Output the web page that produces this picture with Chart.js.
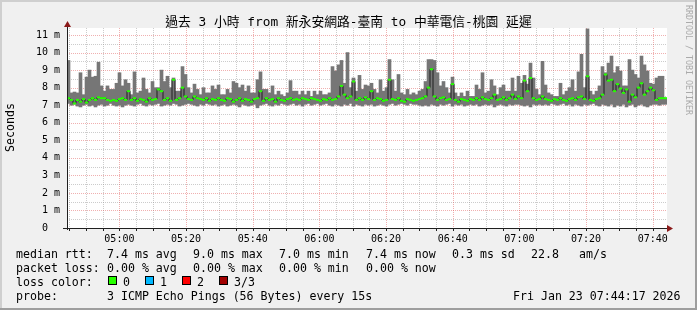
<!DOCTYPE html>
<html>
<head>
<meta charset="utf-8">
<script src="https://cdn.jsdelivr.net/npm/chart.js@4.4.1/dist/chart.umd.min.js"></script>
<style>
  html, body { margin: 0; padding: 0; background: #f0f0f0; }
  canvas { display: block; }
</style>
</head>
<body>
<canvas id="chart" width="697" height="310"></canvas>
<script>
// 200 consolidated samples, 54 s each, 04:44:17 -> 07:44:17 (ms)
const startSec = 4 * 3600 + 44 * 60 + 17;
const stepSec = 54;
const spanSec = 3 * 3600;

const rttMax = [
  9.55, 7.7, 7.75, 7.7, 8.85, 7.6, 8.6, 9.0, 8.6, 8.65, 9.45, 8.1, 7.8, 8.1, 7.9, 7.9, 8.25, 8.85, 8.1, 8.45,
  8.25, 7.6, 8.9, 7.7, 7.8, 8.55, 7.9, 7.7, 8.35, 8.0, 8.0, 9.0, 8.35, 8.65, 8.0, 8.55, 7.8, 7.8, 9.2, 8.75,
  8.0, 7.7, 8.2, 7.9, 7.6, 8.0, 7.7, 7.7, 8.1, 7.9, 8.15, 7.6, 7.6, 7.9, 7.7, 8.35, 8.25, 8.0, 8.15, 7.8,
  8.1, 7.7, 7.7, 8.45, 8.9, 7.9, 7.9, 7.7, 8.1, 7.6, 7.8, 7.6, 7.5, 7.7, 8.4, 7.8, 7.8, 7.6, 7.8, 7.6,
  7.8, 7.5, 7.8, 7.6, 7.8, 7.6, 7.6, 7.7, 9.2, 8.95, 9.3, 9.55, 8.25, 10.0, 8.0, 8.55, 7.8, 8.7, 7.9, 8.15,
  8.1, 8.25, 7.9, 7.7, 8.45, 7.8, 8.0, 9.6, 8.45, 7.8, 8.75, 7.7, 7.6, 7.9, 7.6, 7.7, 7.6, 7.8, 7.9, 8.35,
  9.6, 9.6, 9.55, 8.85, 8.1, 8.35, 8.0, 7.7, 8.6, 7.7, 7.5, 7.7, 7.5, 7.8, 7.5, 7.5, 8.15, 7.9, 8.85, 7.7,
  7.8, 8.45, 8.1, 7.6, 8.0, 8.15, 7.8, 7.8, 8.55, 7.8, 8.65, 8.25, 8.7, 8.2, 9.4, 8.55, 7.9, 7.6, 9.5, 8.15,
  7.7, 7.6, 7.5, 7.5, 8.25, 7.6, 7.8, 8.0, 8.45, 7.8, 8.9, 9.9, 8.0, 11.35, 7.8, 7.6, 7.8, 8.1, 9.2, 8.85,
  9.4, 9.8, 8.85, 9.2, 8.95, 8.1, 8.1, 9.6, 9.0, 8.75, 8.55, 9.8, 9.3, 8.95, 8.25, 8.2, 8.55, 8.65, 8.65, 7.4
];

const rttMin = [
  7.1, 7.0, 7.05, 6.95, 6.9, 7.0, 7.05, 6.95, 7.0, 6.9, 7.0, 7.05, 6.95, 7.0, 7.1, 7.0, 6.95, 7.0, 6.9, 7.0,
  7.05, 7.0, 6.95, 7.05, 7.1, 7.0, 6.95, 7.05, 7.0, 7.05, 7.1, 6.95, 7.0, 7.05, 7.0, 7.1, 7.05, 6.95, 7.0, 7.05,
  7.1, 7.05, 7.0, 6.95, 7.05, 7.0, 7.1, 7.05, 7.0, 7.05, 6.95, 7.0, 7.05, 6.95, 7.0, 7.05, 7.0, 6.9, 7.05, 7.0,
  6.95, 7.0, 7.05, 6.85, 7.0, 7.05, 7.1, 7.0, 6.95, 7.05, 7.0, 7.1, 7.05, 7.0, 7.05, 7.1, 7.0, 7.05, 6.95, 7.05,
  7.1, 7.0, 7.05, 7.1, 7.0, 7.05, 7.1, 7.0, 6.95, 7.05, 7.0, 6.95, 7.05, 7.0, 7.1, 6.95, 7.05, 7.0, 6.95, 7.05,
  7.0, 7.05, 6.95, 7.0, 7.05, 7.0, 6.95, 7.05, 7.1, 7.0, 7.05, 7.1, 7.05, 7.0, 7.1, 7.05, 7.05, 7.0, 6.95, 7.0,
  6.95, 7.05, 7.0, 6.95, 7.05, 7.0, 7.05, 7.1, 6.95, 7.05, 7.0, 7.05, 6.95, 7.0, 7.05, 7.0, 7.05, 6.95, 7.0, 7.05,
  7.0, 7.05, 6.9, 7.0, 7.05, 7.0, 6.95, 7.05, 7.0, 7.05, 7.05, 7.0, 6.95, 7.0, 6.9, 7.05, 7.0, 7.05, 7.0, 7.05,
  7.0, 7.1, 7.05, 7.0, 7.05, 7.1, 7.0, 7.05, 6.95, 7.05, 7.0, 6.95, 7.05, 7.0, 7.05, 7.1, 7.0, 6.95, 7.05, 7.0,
  6.95, 7.05, 6.9, 7.0, 6.95, 7.05, 6.9, 7.0, 7.05, 6.9, 7.0, 7.05, 6.95, 6.9, 7.0, 7.05, 7.05, 7.0, 7.05, 7.05
];

const rttMedian = [
  7.4, 7.3, 7.1, 7.3, 7.2, 7.35, 7.15, 7.3, 7.4, 7.3, 7.45, 7.4, 7.4, 7.3, 7.25, 7.3, 7.25, 7.35, 7.4, 7.3,
  7.8, 7.3, 7.4, 7.25, 7.35, 7.3, 7.2, 7.4, 7.3, 7.35, 7.9, 7.8, 7.3, 7.4, 7.25, 8.45, 7.3, 7.4, 8.0, 7.5,
  7.35, 7.3, 7.5, 7.4, 7.35, 7.3, 7.4, 7.25, 7.35, 7.3, 7.4, 7.3, 7.25, 7.4, 7.35, 7.2, 7.3, 7.4, 7.25, 7.35,
  7.3, 7.2, 7.35, 7.4, 7.8, 7.25, 7.4, 7.3, 7.35, 7.2, 7.4, 7.3, 7.25, 7.35, 7.4, 7.3, 7.35, 7.3, 7.4, 7.35,
  7.3, 7.4, 7.35, 7.3, 7.25, 7.35, 7.3, 7.4, 7.3, 7.35, 7.5, 8.1, 7.6, 7.4, 7.5, 8.35, 7.3, 7.4, 7.3, 7.45,
  7.35, 7.8, 7.3, 7.4, 7.35, 7.25, 7.3, 8.45, 7.35, 7.3, 7.4, 7.25, 7.2, 7.35, 7.3, 7.25, 7.3, 7.35, 7.4, 7.5,
  8.0, 9.05, 7.5, 7.3, 7.4, 7.45, 7.3, 7.35, 8.2, 7.3, 7.2, 7.35, 7.3, 7.25, 7.35, 7.3, 7.4, 7.3, 7.45, 7.35,
  7.3, 7.4, 7.6, 7.3, 7.35, 7.45, 7.3, 7.4, 7.6, 7.35, 7.5, 7.4, 8.4, 7.8, 8.55, 7.4, 7.3, 7.35, 7.5, 7.35,
  7.3, 7.25, 7.35, 7.3, 7.4, 7.3, 7.25, 7.35, 7.4, 7.3, 7.45, 7.5, 7.35, 8.65, 7.3, 7.25, 7.35, 7.4, 7.6, 8.75,
  8.4, 8.45, 7.8, 8.2, 7.95, 7.7, 7.9, 7.2, 7.6, 7.45, 8.0, 8.25, 7.6, 7.8, 8.0, 7.85, 7.3, 7.4, 7.4, 7.4
];

const timeLabels = ['05:00', '05:20', '05:40', '06:00', '06:20', '06:40', '07:00', '07:20', '07:40'];
const yTickValues = [0, 1, 2, 3, 4, 5, 6, 7, 8, 9, 10, 11];
const yTickLabels = ['0  ', '1 m', '2 m', '3 m', '4 m', '5 m', '6 m', '7 m', '8 m', '9 m', '10 m', '11 m'];

const lossColors = ['#26ff00', '#00b8ff', '#ff0000', '#a10000'];
const lossLabels = ['0', '1', '2', '3/3'];

const tickSecs = timeLabels.map(t => {
    const [h, m] = t.split(':').map(Number);
    return h * 3600 + m * 60;
});
const sampleTimes = rttMedian.map((_, i) => startSec + (i + 0.5) * stepSec);
const smoke = rttMin.map((lo, i) => ({ x: sampleTimes[i], y: [lo, rttMax[i]] }));
const medianPts = rttMedian.map((v, i) => ({ x: sampleTimes[i], y: v }));

const MONO = "'DejaVu Sans Mono', monospace";

const framePlugin = {
    id: 'frame',
    beforeDraw(chart) {
        const { ctx, chartArea: a, width: w, height: h } = chart;
        ctx.save();
        ctx.fillStyle = '#f0f0f0';
        ctx.fillRect(0, 0, w, h);
        ctx.fillStyle = '#cfcfcf';
        ctx.fillRect(0, 0, w, 2);
        ctx.fillRect(0, 0, 2, h);
        ctx.fillStyle = '#9e9e9e';
        ctx.fillRect(0, h - 2, w, 2);
        ctx.fillRect(w - 2, 0, 2, h);
        ctx.fillStyle = '#ffffff';
        ctx.fillRect(a.left, a.top, a.right - a.left, a.bottom - a.top);
        ctx.restore();
    },
    beforeDatasetsDraw(chart) {
        const { ctx, chartArea: a, scales: { x, y } } = chart;
        ctx.save();
        ctx.lineWidth = 1;
        ctx.setLineDash([1, 1]);
        const hline = (v, color) => {
            const py = Math.round(y.getPixelForValue(v)) + 0.5;
            ctx.strokeStyle = color;
            ctx.beginPath(); ctx.moveTo(a.left, py); ctx.lineTo(a.right, py); ctx.stroke();
        };
        const vline = (s, color) => {
            const px = Math.round(x.getPixelForValue(s)) + 0.5;
            ctx.strokeStyle = color;
            ctx.beginPath(); ctx.moveTo(px, a.top); ctx.lineTo(px, a.bottom); ctx.stroke();
        };
        const minor = 'rgba(143,143,143,0.45)';
        const major = 'rgba(222,80,80,0.45)';
        for (let k = 1; k <= 22; k++) if (k % 2) hline(k / 2, minor);
        for (let s = 17100; s < startSec + spanSec; s += 300) if (s % 1200) vline(s, minor);
        for (let k = 1; k <= 11; k++) hline(k, major);
        for (let s = 18000; s < startSec + spanSec; s += 1200) vline(s, major);
        ctx.restore();
    },
    afterDraw(chart) {
        const { ctx, chartArea: a, scales: { x } } = chart;
        ctx.save();
        // axes
        ctx.strokeStyle = '#202020';
        ctx.lineWidth = 1;
        ctx.beginPath();
        ctx.moveTo(a.left + 0.5, a.bottom + 2); ctx.lineTo(a.left + 0.5, a.top - 4);
        ctx.moveTo(a.left - 4, a.bottom + 0.5); ctx.lineTo(a.right + 3, a.bottom + 0.5);
        ctx.stroke();
        ctx.beginPath();
        for (let s = 17100; s < startSec + spanSec; s += 300) {
            const px = Math.round(x.getPixelForValue(s)) + 0.5;
            ctx.moveTo(px, a.bottom + 1); ctx.lineTo(px, a.bottom + 3);
        }
        ctx.stroke();
        // arrows
        ctx.fillStyle = '#8b1a1a';
        ctx.beginPath();
        ctx.moveTo(a.left + 0.5, a.top - 7);
        ctx.lineTo(a.left - 3, a.top - 1);
        ctx.lineTo(a.left + 4, a.top - 1);
        ctx.closePath(); ctx.fill();
        ctx.beginPath();
        ctx.moveTo(a.right + 6, a.bottom + 0.5);
        ctx.lineTo(a.right, a.bottom - 3);
        ctx.lineTo(a.right, a.bottom + 4);
        ctx.closePath(); ctx.fill();

        // title
        ctx.fillStyle = '#000';
        ctx.font = "12.8px 'DejaVu Sans Mono', 'Noto Sans CJK TC', monospace";
        ctx.textAlign = 'center';
        ctx.textBaseline = 'alphabetic';
        ctx.fillText('過去 3 小時 from 新永安網路-臺南 to 中華電信-桃園 延遲', 348.5, 26);

        // vertical axis title
        ctx.save();
        ctx.translate(10.5, 127.5);
        ctx.rotate(-Math.PI / 2);
        ctx.font = '11.6px ' + MONO;
        ctx.textBaseline = 'middle';
        ctx.fillText('Seconds', 0, 0);
        ctx.restore();

        // watermark
        ctx.save();
        ctx.translate(688, 5);
        ctx.rotate(Math.PI / 2);
        ctx.font = '8.3px ' + MONO;
        ctx.fillStyle = '#aaaaaa';
        ctx.textAlign = 'left';
        ctx.textBaseline = 'middle';
        ctx.fillText('RRDTOOL / TOBI OETIKER', 0, 0);
        ctx.restore();

        // legend
        ctx.font = '11.6px ' + MONO;
        ctx.textAlign = 'left';
        ctx.textBaseline = 'alphabetic';
        ctx.fillStyle = '#000';
        const row = (yy, items) => items.forEach(([xx, t]) => ctx.fillText(t, xx, yy));
        row(258, [[16, 'median rtt:'], [107, '7.4 ms avg'], [193, '9.0 ms max'], [279, '7.0 ms min'],
                  [366, '7.4 ms now'], [452, '0.3 ms sd'], [531, '22.8'], [579, 'am/s']]);
        row(272, [[16, 'packet loss:'], [107, '0.00 % avg'], [193, '0.00 % max'], [279, '0.00 % min'],
                  [366, '0.00 % now']]);
        row(286, [[16, 'loss color:']]);
        const boxX = [108, 145, 182, 219];
        lossColors.forEach((c, i) => {
            ctx.fillStyle = '#000';
            ctx.fillRect(boxX[i], 276, 9, 9);
            ctx.fillStyle = c;
            ctx.fillRect(boxX[i] + 1, 277, 7, 7);
            ctx.fillStyle = '#000';
            ctx.fillText(lossLabels[i], boxX[i] + 15, 286);
        });
        row(300, [[16, 'probe:'], [107, '3 ICMP Echo Pings (56 Bytes) every 15s'],
                  [513, 'Fri Jan 23 07:44:17 2026']]);
        ctx.restore();
    }
};

new Chart(document.getElementById('chart'), {
    data: {
        datasets: [
            {
                type: 'bar',
                data: smoke,
                backgroundColor: '#767676',
                borderWidth: 0,
                barThickness: 3,
                order: 3
            },
            {
                type: 'line',
                data: medianPts,
                borderColor: '#1e1e1e',
                borderWidth: 1,
                stepped: 'middle',
                pointRadius: 0,
                order: 2
            },
            {
                type: 'line',
                data: medianPts,
                showLine: false,
                pointStyle: 'line',
                pointRadius: 1.6,
                pointBorderColor: lossColors[0],
                pointBorderWidth: 2,
                order: 1
            }
        ]
    },
    options: {
        responsive: false,
        devicePixelRatio: 1,
        animation: false,
        events: [],
        layout: { padding: { left: 0, right: 30, top: 28, bottom: 0 } },
        plugins: { legend: { display: false }, tooltip: { enabled: false } },
        font: { family: MONO },
        scales: {
            x: {
                type: 'linear',
                min: startSec,
                max: startSec + spanSec,
                offset: false,
                grid: { display: false, drawTicks: false },
                border: { display: false },
                afterBuildTicks: s => { s.ticks = tickSecs.map(v => ({ value: v })); },
                afterFit: s => { s.height = 82; },
                ticks: {
                    autoSkip: false, maxRotation: 0, padding: 5, color: '#000',
                    font: { family: MONO, size: 10 },
                    callback: (v, i) => timeLabels[i]
                }
            },
            y: {
                min: 0,
                max: 11.4,
                grid: { display: false, drawTicks: false },
                border: { display: false },
                afterBuildTicks: s => { s.ticks = yTickValues.map(v => ({ value: v })); },
                afterFit: s => { s.width = 67; },
                ticks: {
                    padding: 7, color: '#000',
                    font: { family: MONO, size: 10 },
                    callback: (v, i) => yTickLabels[i]
                }
            }
        }
    },
    plugins: [framePlugin]
});
</script>
</body>
</html>
